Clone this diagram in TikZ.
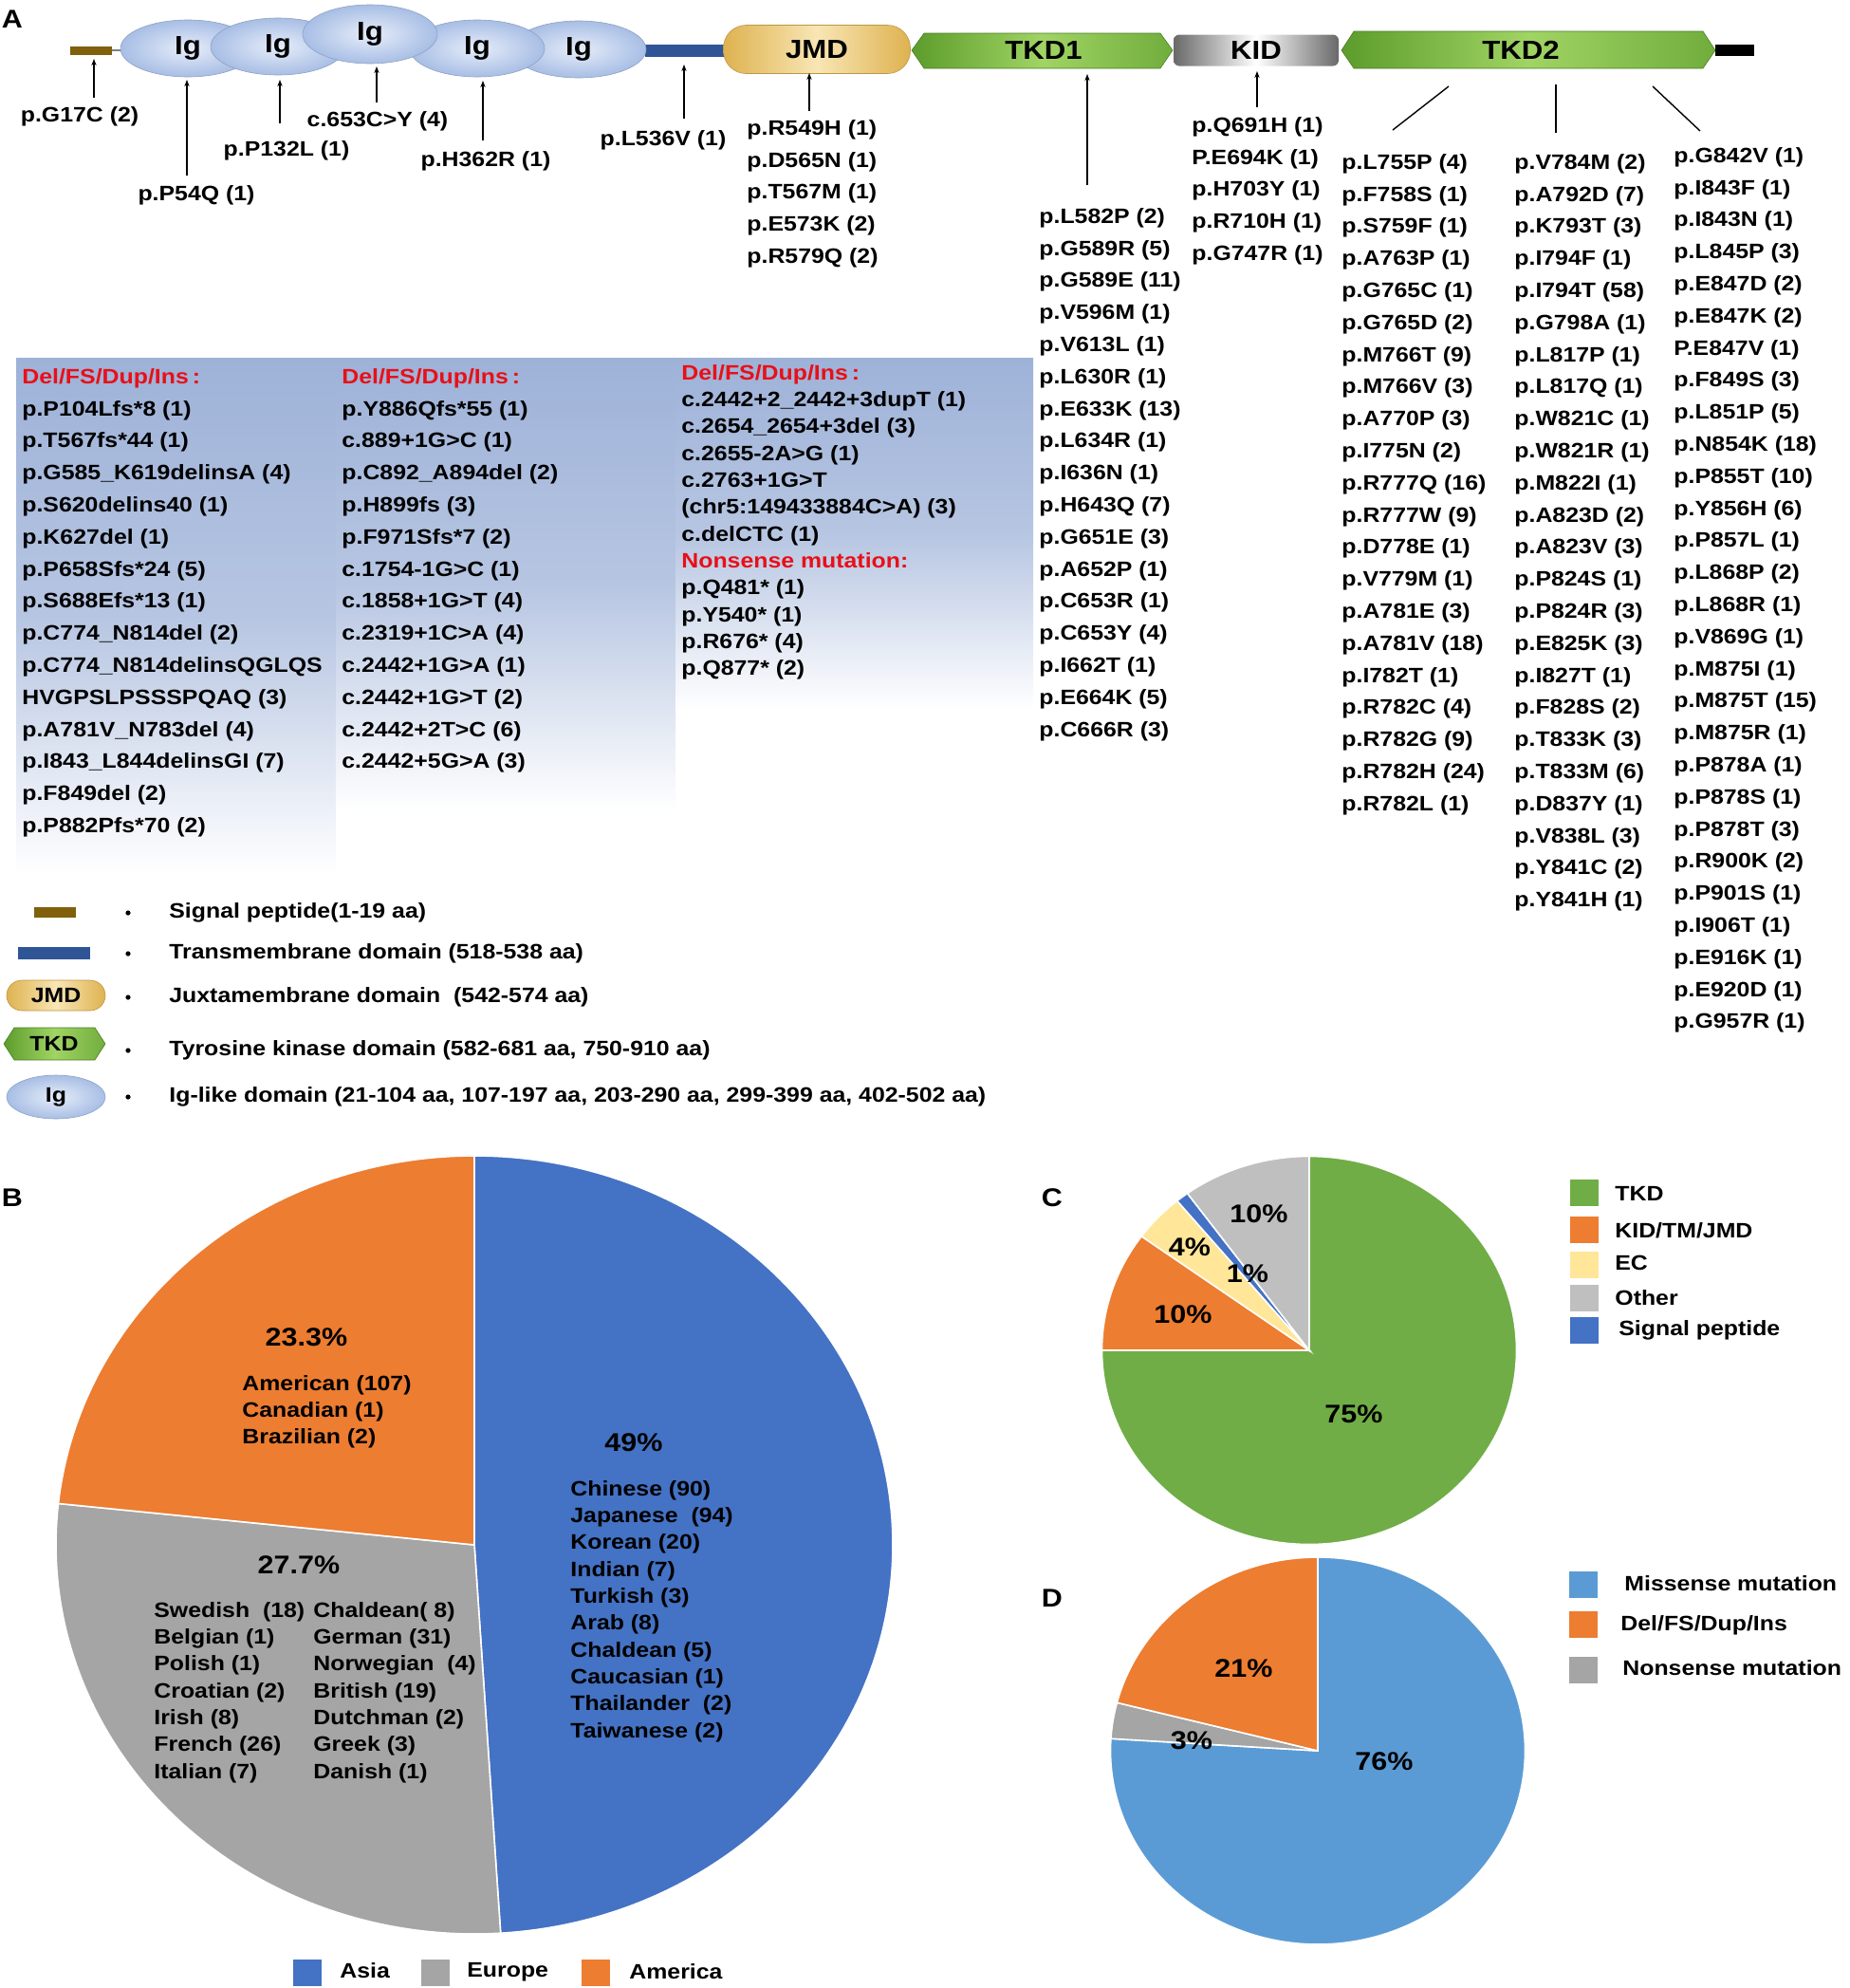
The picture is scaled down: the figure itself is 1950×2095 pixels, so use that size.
\documentclass[tikz,border=0pt]{standalone}
\usepackage{fontspec}
\setmainfont{Liberation Sans}[FakeStretch=1.13]
\usetikzlibrary{shapes.geometric,arrows.meta}
\definecolor{igblue}{RGB}{168,190,229}
\definecolor{iglight}{RGB}{230,237,249}
\definecolor{tmblue}{RGB}{47,85,151}
\definecolor{spbrown}{RGB}{128,96,10}
\definecolor{jmdgold}{RGB}{222,178,80}
\definecolor{jmdlight}{RGB}{248,230,180}
\definecolor{tkddark}{RGB}{92,156,44}
\definecolor{tkdlight}{RGB}{160,212,100}
\definecolor{kidgray}{RGB}{105,105,105}
\definecolor{panelblue}{RGB}{158,178,216}
\definecolor{hdred}{RGB}{232,16,24}
\definecolor{asiablue}{RGB}{68,114,196}
\definecolor{eurogray}{RGB}{165,165,165}
\definecolor{amorange}{RGB}{237,125,49}
\definecolor{tkdgreen}{RGB}{112,173,71}
\definecolor{ecyellow}{RGB}{255,230,153}
\definecolor{othergray}{RGB}{191,191,191}
\definecolor{misblue}{RGB}{91,155,213}
\tikzset{
  lst/.style={anchor=north west, inner sep=0pt, align=left, font=\fontsize{11}{16.9}\selectfont\bfseries},
  lstb/.style={anchor=north west, inner sep=0pt, align=left, font=\fontsize{11}{14.15}\selectfont\bfseries},
  lbl/.style={inner sep=0pt, font=\fontsize{11}{13}\selectfont\bfseries},
  lblw/.style={anchor=west, inner sep=0pt, font=\fontsize{11}{13}\selectfont\bfseries},
  dom/.style={inner sep=0pt, font=\fontsize{13.8}{16}\selectfont\bfseries},
  pct/.style={inner sep=0pt, font=\fontsize{13.5}{16}\selectfont\bfseries},
  panlet/.style={inner sep=0pt, font=\fontsize{13.5}{16}\selectfont\bfseries},
  ptr/.style={-{Stealth[length=3.5pt,width=2.6pt]}, line width=0.7pt},
  ptrline/.style={line width=0.7pt},
  igdom/.style={ellipse, minimum width=71pt, minimum height=30pt, inner sep=0pt,
    inner color=iglight, outer color=igblue, draw=igblue!85!black, line width=0.3pt,
    font=\fontsize{13.8}{16}\selectfont\bfseries},
  jmdbox/.style={rectangle, rounded corners=12pt, minimum width=98.5pt, minimum height=25.5pt,
    inner sep=0pt, left color=jmdgold, right color=jmdgold, middle color=jmdlight,
    draw=jmdgold!85!black, line width=0.3pt, font=\fontsize{13.8}{16}\selectfont\bfseries},
  kidbox/.style={rectangle, rounded corners=3pt, minimum width=87pt, minimum height=16.5pt,
    inner sep=0pt, left color=kidgray, right color=kidgray, middle color=white,
    font=\fontsize{13.8}{16}\selectfont\bfseries},
  tkdfill/.style={left color=tkddark, right color=tkddark!70!tkdlight, middle color=tkdlight,
    draw=tkddark!80!black, line width=0.3pt},
  panel/.style={top color=panelblue, bottom color=white, middle color=panelblue!75},
  slice/.style={draw=white, line width=0.8pt},
  sq/.style={rectangle, minimum width=15pt, minimum height=14pt, inner sep=0pt}
}
\begin{document}
\begin{tikzpicture}[x=0.5pt,y=-0.5pt]
\useasboundingbox (0,0) rectangle (1950,2095);

% ---------------- Panel A : background panels ----------------
\path[panel] (17,377) rectangle (354,922);
\path[panel] (354,377) rectangle (712,855);
\path[panel] (712,377) rectangle (1089,748);

\node[panlet] (labA) at (13,20) {A};

% ---------------- domain bar ----------------
\draw[gray, line width=0.8pt] (118,53) -- (132,53);
\fill[spbrown] (74,49) rectangle (118,58);
\fill[tmblue] (680,47) rectangle (768,60);
\node[igdom] (ig1) at (198,51) {Ig};
\node[igdom] (ig2) at (293,49) {Ig};
\node[igdom] (ig5) at (610,52) {Ig};
\node[igdom] (ig4) at (503,51) {Ig};
\node[igdom, minimum height=31pt] (ig3) at (390,36) {Ig};
\node[jmdbox] (jmd) at (861,52) {JMD};
\path[tkdfill] (961,53) -- (974,35) -- (1223,35) -- (1236,53) -- (1223,72) -- (974,72) -- cycle;
\node[dom] (tkd1) at (1100,53) {TKD1};
\node[kidbox] (kid) at (1324,53) {KID};
\path[tkdfill] (1414,53) -- (1427,33) -- (1795,33) -- (1808,53) -- (1795,72) -- (1427,72) -- cycle;
\node[dom] (tkd2) at (1603,53) {TKD2};
\fill[black] (1808,47) rectangle (1849,59);

% ---------------- single mutation labels ----------------
\node[lbl] (mG17C) at (84,123) {p.G17C (2)};
\node[lbl] (mP54Q) at (207,206) {p.P54Q (1)};
\node[lbl] (mP132L) at (302,159) {p.P132L (1)};
\node[lbl] (m653) at (398,128) {c.653C>Y (4)};
\node[lbl] (mH362R) at (512,170) {p.H362R (1)};
\node[lbl] (mL536V) at (699,148) {p.L536V (1)};

% pointer ends
\coordinate (pA1) at (99,103);   \coordinate (pB1) at (99,62);
\coordinate (pA2) at (197,185);  \coordinate (pB2) at (197,84);
\coordinate (pA3) at (295,130);  \coordinate (pB3) at (295,84);
\coordinate (pA4) at (397,108);  \coordinate (pB4) at (397,70);
\coordinate (pA5) at (509,148);  \coordinate (pB5) at (509,85);
\coordinate (pA6) at (721,125);  \coordinate (pB6) at (721,68);
\coordinate (pA7) at (853,117);  \coordinate (pB7) at (853,77);
\coordinate (pA8) at (1146,195); \coordinate (pB8) at (1146,78);
\coordinate (pA9) at (1325,113); \coordinate (pB9) at (1325,75);
\coordinate (pA10) at (1468,137); \coordinate (pB10) at (1527,91);
\coordinate (pA11) at (1640,140); \coordinate (pB11) at (1640,89);
\coordinate (pA12) at (1792,138); \coordinate (pB12) at (1742,91);
\draw[ptr] (pA1) -- (pB1);
\draw[ptr] (pA2) -- (pB2);
\draw[ptr] (pA3) -- (pB3);
\draw[ptr] (pA4) -- (pB4);
\draw[ptr] (pA5) -- (pB5);
\draw[ptr] (pA6) -- (pB6);
\draw[ptr] (pA7) -- (pB7);
\draw[ptr] (pA8) -- (pB8);
\draw[ptr] (pA9) -- (pB9);
\draw[ptrline] (pA10) -- (pB10);
\draw[ptrline] (pA11) -- (pB11);
\draw[ptrline] (pA12) -- (pB12);

% ---------------- lists ----------------
\node[lst] (ljmd) at (787,126) {p.R549H (1)\\p.D565N (1)\\p.T567M (1)\\p.E573K (2)\\p.R579Q (2)};
\node[lst] (lkid) at (1256,123) {p.Q691H (1)\\P.E694K (1)\\p.H703Y (1)\\p.R710H (1)\\p.G747R (1)};
\node[lst] (ltkd1) at (1095,219) {p.L582P (2)\\p.G589R (5)\\p.G589E (11)\\p.V596M (1)\\p.V613L (1)\\p.L630R (1)\\p.E633K (13)\\p.L634R (1)\\p.I636N (1)\\p.H643Q (7)\\p.G651E (3)\\p.A652P (1)\\p.C653R (1)\\p.C653Y (4)\\p.I662T (1)\\p.E664K (5)\\p.C666R (3)};
\node[lst] (ltkd2a) at (1414,162) {p.L755P (4)\\p.F758S (1)\\p.S759F (1)\\p.A763P (1)\\p.G765C (1)\\p.G765D (2)\\p.M766T (9)\\p.M766V (3)\\p.A770P (3)\\p.I775N (2)\\p.R777Q (16)\\p.R777W (9)\\p.D778E (1)\\p.V779M (1)\\p.A781E (3)\\p.A781V (18)\\p.I782T (1)\\p.R782C (4)\\p.R782G (9)\\p.R782H (24)\\p.R782L (1)};
\node[lst] (ltkd2b) at (1596,162) {p.V784M (2)\\p.A792D (7)\\p.K793T (3)\\p.I794F (1)\\p.I794T (58)\\p.G798A (1)\\p.L817P (1)\\p.L817Q (1)\\p.W821C (1)\\p.W821R (1)\\p.M822I (1)\\p.A823D (2)\\p.A823V (3)\\p.P824S (1)\\p.P824R (3)\\p.E825K (3)\\p.I827T (1)\\p.F828S (2)\\p.T833K (3)\\p.T833M (6)\\p.D837Y (1)\\p.V838L (3)\\p.Y841C (2)\\p.Y841H (1)};
\node[lst] (ltkd2c) at (1764,155) {p.G842V (1)\\p.I843F (1)\\p.I843N (1)\\p.L845P (3)\\p.E847D (2)\\p.E847K (2)\\P.E847V (1)\\p.F849S (3)\\p.L851P (5)\\p.N854K (18)\\p.P855T (10)\\p.Y856H (6)\\p.P857L (1)\\p.L868P (2)\\p.L868R (1)\\p.V869G (1)\\p.M875I (1)\\p.M875T (15)\\p.M875R (1)\\p.P878A (1)\\p.P878S (1)\\p.P878T (3)\\p.R900K (2)\\p.P901S (1)\\p.I906T (1)\\p.E916K (1)\\p.E920D (1)\\p.G957R (1)};

\node[lst] (lpan1) at (23,388) {\textcolor{hdred}{Del/FS/Dup/Ins\kern2pt:}\\p.P104Lfs*8 (1)\\p.T567fs*44 (1)\\p.G585\_K619delinsA (4)\\p.S620delins40 (1)\\p.K627del (1)\\p.P658Sfs*24 (5)\\p.S688Efs*13 (1)\\p.C774\_N814del (2)\\p.C774\_N814delinsQGLQS\\HVGPSLPSSSPQAQ (3)\\p.A781V\_N783del (4)\\p.I843\_L844delinsGI (7)\\p.F849del (2)\\p.P882Pfs*70 (2)};
\node[lst] (lpan2) at (360,388) {\textcolor{hdred}{Del/FS/Dup/Ins\kern2pt:}\\p.Y886Qfs*55 (1)\\c.889+1G>C (1)\\p.C892\_A894del (2)\\p.H899fs (3)\\p.F971Sfs*7 (2)\\c.1754-1G>C (1)\\c.1858+1G>T (4)\\c.2319+1C>A (4)\\c.2442+1G>A (1)\\c.2442+1G>T (2)\\c.2442+2T>C (6)\\c.2442+5G>A (3)};
\node[lstb] (lpan3) at (718,384) {\textcolor{hdred}{Del/FS/Dup/Ins\kern2pt:}\\c.2442+2\_2442+3dupT (1)\\c.2654\_2654+3del (3)\\c.2655-2A>G (1)\\c.2763+1G>T\\(chr5:149433884C>A) (3)\\c.delCTC (1)\\\textcolor{hdred}{Nonsense mutation:}\\p.Q481* (1)\\p.Y540* (1)\\p.R676* (4)\\p.Q877* (2)};

% ---------------- legend A ----------------
\fill[spbrown] (36,956) rectangle (80,967);
\fill[tmblue] (19,998) rectangle (95,1011);
\node[jmdbox, minimum width=52pt, minimum height=16pt, rounded corners=8pt, font=\fontsize{11}{13}\selectfont\bfseries] (legjmd) at (59,1049) {JMD};
\path[tkdfill] (4,1100) -- (15,1083) -- (100,1083) -- (111,1100) -- (100,1117) -- (15,1117) -- cycle;
\node[lbl] (legtkd) at (57,1100) {TKD};
\node[igdom, minimum width=52pt, minimum height=23pt, font=\fontsize{11}{13}\selectfont\bfseries] (legig) at (59,1156) {Ig};
\foreach \yy in {962,1005,1051,1107,1156} { \fill (135,\yy) circle[radius=2.6]; }
\node[lblw] (lt1) at (178,962) {Signal peptide(1-19 aa)};
\node[lblw] (lt2) at (178,1005) {Transmembrane domain (518-538 aa)};
\node[lblw] (lt3) at (178,1051) {Juxtamembrane domain\ \ (542-574 aa)};
\node[lblw] (lt4) at (178,1107) {Tyrosine kinase domain (582-681 aa, 750-910 aa)};
\node[lblw] (lt5) at (178,1156) {Ig-like domain (21-104 aa, 107-197 aa, 203-290 aa, 299-399 aa, 402-502 aa)};

% ---------------- Panel B ----------------
\node[panlet] (labB) at (13,1262) {B};
\fill[asiablue, slice] (500,1628) -- ++(-90:441 and 410) arc[start angle=-90, end angle=86.4, x radius=441, y radius=410] -- cycle;
\fill[eurogray, slice] (500,1628) -- ++(86.4:441 and 410) arc[start angle=86.4, end angle=186.1, x radius=441, y radius=410] -- cycle;
\fill[amorange, slice] (500,1628) -- ++(186.1:441 and 410) arc[start angle=186.1, end angle=270, x radius=441, y radius=410] -- cycle;
\node[pct] (pAm) at (323,1409) {23.3\%};
\node[lstb] (lAm) at (255,1449) {American (107)\\Canadian (1)\\Brazilian (2)};
\node[pct] (pAs) at (668,1520) {49\%};
\node[lstb] (lAs) at (601,1560) {Chinese (90)\\Japanese\ \ (94)\\Korean (20)\\Indian (7)\\Turkish (3)\\Arab (8)\\Chaldean (5)\\Caucasian (1)\\Thailander\ \ (2)\\Taiwanese (2)};
\node[pct] (pEu) at (315,1649) {27.7\%};
\node[lstb] (lEu1) at (162,1688) {Swedish\ \ (18)\\Belgian (1)\\Polish (1)\\Croatian (2)\\Irish (8)\\French (26)\\Italian (7)};
\node[lstb] (lEu2) at (330,1688) {Chaldean( 8)\\German (31)\\Norwegian\ \ (4)\\British (19)\\Dutchman (2)\\Greek (3)\\Danish (1)};
\node[sq, fill=asiablue] (sqAs) at (324,2079) {};
\node[lblw] (tAs) at (358,2077) {Asia};
\node[sq, fill=eurogray] (sqEu) at (459,2079) {};
\node[lblw] (tEu) at (492,2078) {Europe};
\node[sq, fill=amorange] (sqAm) at (628,2079) {};
\node[lblw] (tAm) at (663,2078) {America};

% ---------------- Panel C ----------------
\node[panlet] (labC) at (1109,1262) {C};
\fill[tkdgreen, slice] (1380,1423) -- ++(-90:218.5 and 204.5) arc[start angle=-90, end angle=180, x radius=218.5, y radius=204.5] -- cycle;
\fill[amorange, slice] (1380,1423) -- ++(180:218.5 and 204.5) arc[start angle=180, end angle=216, x radius=218.5, y radius=204.5] -- cycle;
\fill[ecyellow, slice] (1380,1423) -- ++(216:218.5 and 204.5) arc[start angle=216, end angle=230.4, x radius=218.5, y radius=204.5] -- cycle;
\fill[asiablue, slice] (1380,1423) -- ++(230.4:218.5 and 204.5) arc[start angle=230.4, end angle=234, x radius=218.5, y radius=204.5] -- cycle;
\fill[othergray, slice] (1380,1423) -- ++(234:218.5 and 204.5) arc[start angle=234, end angle=270, x radius=218.5, y radius=204.5] -- cycle;
\node[pct] (cOt) at (1327,1279) {10\%};
\node[pct] (cEc) at (1254,1314) {4\%};
\node[pct] (cSp) at (1315,1342) {1\%};
\node[pct] (cKi) at (1247,1385) {10\%};
\node[pct] (cTk) at (1427,1490) {75\%};
\node[sq, fill=tkdgreen] (sqC1) at (1670,1257) {};
\node[sq, fill=amorange] (sqC2) at (1670,1296) {};
\node[sq, fill=ecyellow] (sqC3) at (1670,1333) {};
\node[sq, fill=othergray] (sqC4) at (1670,1368) {};
\node[sq, fill=asiablue] (sqC5) at (1670,1402) {};
\node[lblw] (tC1) at (1702,1258) {TKD};
\node[lblw] (tC2) at (1702,1297) {KID/TM/JMD};
\node[lblw] (tC3) at (1702,1331) {EC};
\node[lblw] (tC4) at (1702,1368) {Other};
\node[lblw] (tC5) at (1706,1402) {Signal peptide};

% ---------------- Panel D ----------------
\node[panlet] (labD) at (1109,1684) {D};
\fill[misblue, slice] (1389,1845) -- ++(-90:218.5 and 204) arc[start angle=-90, end angle=183.6, x radius=218.5, y radius=204] -- cycle;
\fill[eurogray, slice] (1389,1845) -- ++(183.6:218.5 and 204) arc[start angle=183.6, end angle=194.4, x radius=218.5, y radius=204] -- cycle;
\fill[amorange, slice] (1389,1845) -- ++(194.4:218.5 and 204) arc[start angle=194.4, end angle=270, x radius=218.5, y radius=204] -- cycle;
\node[pct] (dDe) at (1311,1758) {21\%};
\node[pct] (dNo) at (1256,1834) {3\%};
\node[pct] (dMi) at (1459,1856) {76\%};
\node[sq, fill=misblue] (sqD1) at (1669,1670) {};
\node[sq, fill=amorange] (sqD2) at (1669,1712) {};
\node[sq, fill=eurogray] (sqD3) at (1669,1760) {};
\node[lblw] (tD1) at (1712,1669) {Missense mutation};
\node[lblw] (tD2) at (1708,1713) {Del/FS/Dup/Ins};
\node[lblw] (tD3) at (1710,1758) {Nonsense mutation};
\end{tikzpicture}
\end{document}
